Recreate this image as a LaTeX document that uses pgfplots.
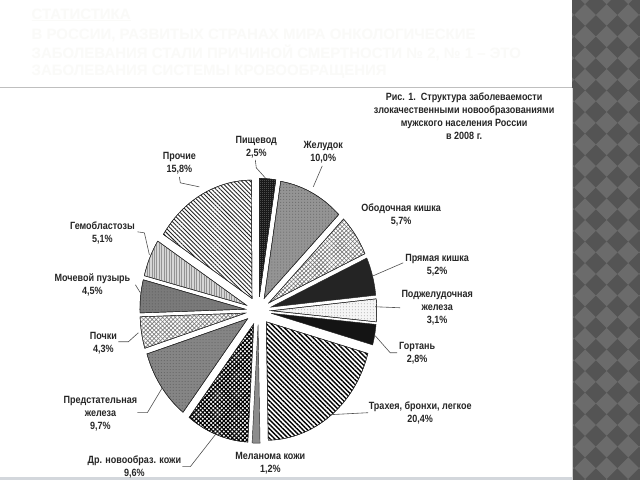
\documentclass[border=0pt]{standalone}
\usepackage{pgfplots}
\pgfplotsset{compat=1.18}
\usepackage{pgfplotstable}
\usetikzlibrary{patterns,patterns.meta}
\usepackage{fontspec}
\setmainfont{Liberation Sans}[FakeStretch=0.86]
\newfontfamily\titlefont{Liberation Sans}

\definecolor{lab}{HTML}{262626}
\definecolor{lead}{HTML}{505050}
\definecolor{stripdark}{HTML}{545454}
\definecolor{striplight}{HTML}{6B6B6B}
\definecolor{ghost}{HTML}{FAFAF8}
\definecolor{barc}{HTML}{D3D7DC}

% shares of the pie, %, clockwise from 12 o'clock
\pgfplotstableread{
value
2.5
10.0
5.7
5.2
3.1
2.8
20.4
1.2
9.6
9.7
4.3
4.5
5.1
15.8
}\piedata

\def\cum{0}
\pgfplotsforeachungrouped \idx in {0,...,13}{%
  \pgfplotstablegetelem{\idx}{value}\of\piedata
  \pgfmathsetmacro\angA{90-3.6*\cum}%
  \pgfmathsetmacro\newcum{\cum+\pgfplotsretval}%
  \pgfmathsetmacro\angB{90-3.6*\newcum}%
  \pgfmathsetmacro\angM{(\angA+\angB)/2}%
  \pgfmathsetmacro\apx{258+13*cos(\angM)}%
  \pgfmathsetmacro\apy{311-14*sin(\angM)}%
  \expandafter\xdef\csname sa\idx\endcsname{\angB}%
  \expandafter\xdef\csname sb\idx\endcsname{\angA}%
  \expandafter\xdef\csname ax\idx\endcsname{\apx}%
  \expandafter\xdef\csname ay\idx\endcsname{\apy}%
  \xdef\cum{\newcum}%
}

\pgfplotsset{
  slicebase/.style={draw=black!85, line width=0.45pt, mark=none},
  slice0/.style={slicebase, fill=black!70, postaction={pattern color=black!90, pattern={Hatch[angle=0,distance=2pt,line width=0.4pt]}}},
  slice1/.style={slicebase, fill=black!42, postaction={pattern color=black!62, pattern=dots}},
  slice2/.style={slicebase, fill=white, postaction={pattern color=black!55, pattern={Hatch[angle=45,distance=3pt,line width=0.6pt]}}},
  slice3/.style={slicebase, fill=black!86},
  slice4/.style={slicebase, fill=black!4, postaction={pattern color=black!35, pattern=dots}},
  slice5/.style={slicebase, fill=black!92},
  slice6/.style={slicebase, fill=white, postaction={pattern color=black, pattern={Lines[angle=-45,distance=3.3pt,line width=1.4pt]}}},
  slice7/.style={slicebase, fill=black!45},
  slice8/.style={slicebase, fill=white, postaction={pattern color=black, pattern={Hatch[angle=45,distance=3pt,line width=1.1pt]}}},
  slice9/.style={slicebase, fill=black!48, postaction={pattern color=black!64, pattern=dots}},
  slice10/.style={slicebase, fill=white, postaction={pattern color=black!50, pattern={Hatch[angle=45,distance=3pt,line width=0.7pt]}}},
  slice11/.style={slicebase, fill=black!52, postaction={pattern color=black!66, pattern=dots}},
  slice12/.style={slicebase, fill=black!16, postaction={pattern color=black!42, pattern={Lines[angle=90,distance=2.5pt,line width=0.6pt]}}},
  slice13/.style={slicebase, fill=white, postaction={pattern color=black!85, pattern={Lines[angle=-45,distance=3pt,line width=0.9pt]}}},
}

\begin{document}
\begin{tikzpicture}
\fill[white] (0,0) rectangle (640bp,480bp);
\begin{scope}
  \clip (572bp,0) rectangle (640bp,480bp);
  \fill[stripdark] (572bp,0) rectangle (640bp,480bp);
  \foreach \cx in {-1,...,3}{
    \foreach \cy in {-1,...,22}{
      \fill[striplight] ({(585+21.6*\cx-10.8)*1bp},{(480-15-21.6*\cy)*1bp}) -- ++(10.8bp,10.8bp) -- ++(10.8bp,-10.8bp) -- ++(-10.8bp,-10.8bp) -- cycle;
    }
  }
\end{scope}
\draw[black!25, line width=1bp] (0,392bp) -- (572bp,392bp);
\draw[black!18, line width=0.8bp] (572bp,0) -- (572bp,392bp);
\fill[barc] (0,0) rectangle (572bp,3bp);

\begin{axis}[at={(0,0)}, anchor=south west, scale only axis,
  width=640bp, height=480bp, xmin=0, xmax=640, ymin=0, ymax=480,
  y dir=reverse, hide axis, clip=false]

\pgfplotsinvokeforeach{0,...,13}{%
  \edef\tmp{\noexpand\addplot[slice#1, domain=\csname sa#1\endcsname:\csname sb#1\endcsname, samples=60, variable=\noexpand\t]
    ({\csname ax#1\endcsname + 105.5*cos(\noexpand\t)}, {\csname ay#1\endcsname - 118.5*sin(\noexpand\t)})
    -- (axis cs:\csname ax#1\endcsname,\csname ay#1\endcsname) -- cycle;}%
  \tmp
}

% ghost slide title
\begin{scope}[every node/.style={anchor=west, inner sep=0, text=ghost, font=\titlefont\fontsize{15bp}{18bp}\selectfont\bfseries}]
\node at (axis cs:31,15) {\underline{СТАТИСТИКА}};
\node at (axis cs:31,35) {В РОССИИ, РАЗВИТЫХ СТРАНАХ МИРА ОНКОЛОГИЧЕСКИЕ};
\node at (axis cs:31,53) {ЗАБОЛЕВАНИЯ СТАЛИ ПРИЧИНОЙ СМЕРТНОСТИ № 2, № 1 – ЭТО};
\node at (axis cs:31,72) {ЗАБОЛЕВАНИЯ СИСТЕМЫ КРОВООБРАЩЕНИЯ};
\end{scope}

% leader lines
\begin{scope}[lead, line width=0.6pt]
\draw (axis cs:255,160) -- (axis cs:256,168) -- (axis cs:265,178);
\draw (axis cs:322,166) -- (axis cs:313,187);
\draw (axis cs:179,177) -- (axis cs:180,183) -- (axis cs:199,187);
\draw (axis cs:403,263) -- (axis cs:373,276);
\draw (axis cs:375,307) -- (axis cs:400,308);
\draw (axis cs:375,336) -- (axis cs:390,353) -- (axis cs:397,353);
\draw (axis cs:330,415) -- (axis cs:368,413);
\draw (axis cs:182,467) -- (axis cs:190,467) -- (axis cs:215,435);
\draw (axis cs:137,413) -- (axis cs:147,413) -- (axis cs:162,388);
\draw (axis cs:118,342) -- (axis cs:128,342) -- (axis cs:138,333);
\draw (axis cs:135,285) -- (axis cs:140,293);
\draw (axis cs:137,232) -- (axis cs:144,233) -- (axis cs:149,255);
\end{scope}

% labels
\begin{scope}[every node/.style={align=center, inner sep=0, text=lab, font=\fontsize{10.5bp}{13bp}\selectfont\bfseries}]
\node at (axis cs:464,116.5) {Рис. 1.\ \ Структура заболеваемости\\злокачественными новообразованиями\\мужского населения России\\в 2008 г.};
\node at (axis cs:256,147) {Пищевод\\2,5\%};
\node at (axis cs:323,152.5) {Желудок\\10,0\%};
\node at (axis cs:179,163.5) {Прочие\\15,8\%};
\node at (axis cs:401,215) {Ободочная кишка\\5,7\%};
\node at (axis cs:437,265) {Прямая кишка\\5,2\%};
\node at (axis cs:437,308) {Поджелудочная\\железа\\3,1\%};
\node at (axis cs:417,353) {Гортань\\2,8\%};
\node at (axis cs:420,413.5) {Трахея, бронхи, легкое\\20,4\%};
\node at (axis cs:270,463.5) {Меланома кожи\\1,2\%};
\node at (axis cs:102,233.5) {Гемобластозы\\5,1\%};
\node at (axis cs:92,285) {Мочевой пузырь\\4,5\%};
\node at (axis cs:103,343) {Почки\\4,3\%};
\node at (axis cs:100,414.5) {Предстательная\\железа\\9,7\%};
\node at (axis cs:134,467) {Др. новообраз. кожи\\9,6\%};
\end{scope}
\end{axis}
\end{tikzpicture}
\end{document}
